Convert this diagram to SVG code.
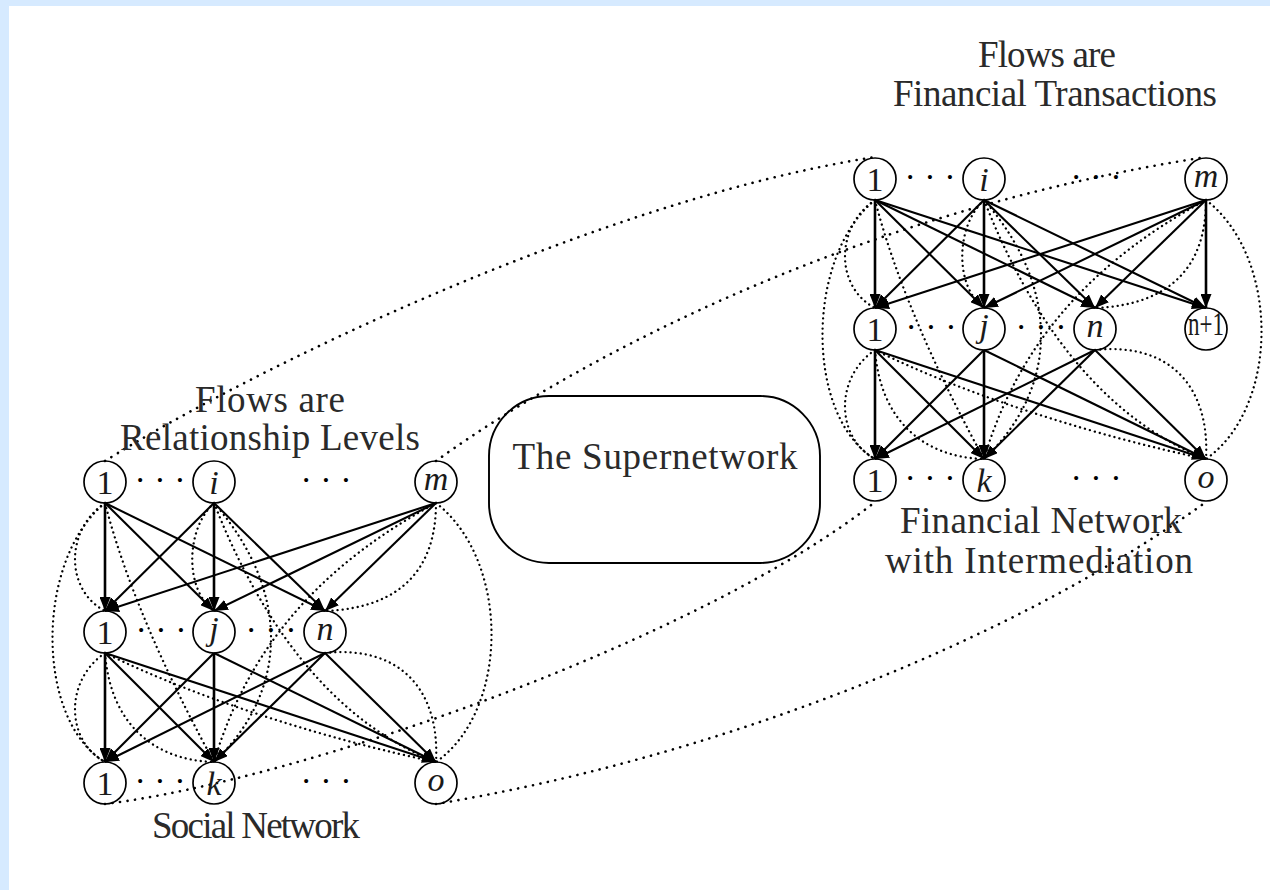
<svg xmlns="http://www.w3.org/2000/svg" width="1270" height="890" viewBox="0 0 1270 890">
<defs>
<marker id="ah" viewBox="0 0 14 11" refX="14" refY="5.5" markerWidth="14" markerHeight="11" markerUnits="userSpaceOnUse" orient="auto"><path d="M0,0 L14,5.5 L0,11 z" fill="#000"/></marker>
<style>
.nd circle{fill:none;stroke:#000;stroke-width:1.7}
.lb{font-family:"Liberation Serif",serif;font-size:34px;text-anchor:middle;fill:#1a1a1a}
.it{font-style:italic}
.tx{font-family:"Liberation Serif",serif;font-size:37px;text-anchor:middle;fill:#2a2a2a}
.el{font-family:"Liberation Serif",serif;font-size:34px;text-anchor:middle;fill:#000}
.ar{fill:none;stroke:#000;stroke-width:2.1;marker-end:url(#ah)}
.vt{stroke-width:2.6}
.dt{fill:none;stroke:#000;stroke-width:2.3;stroke-dasharray:0.1 5;stroke-linecap:round}
.cn{fill:none;stroke:#000;stroke-width:2.6;stroke-dasharray:0.1 7.5;stroke-linecap:round}
</style>
</defs>
<rect x="0" y="0" width="1270" height="890" fill="#d6eaff"/>
<rect x="9" y="6" width="1261" height="884" fill="#fff"/>

<!-- connectors between the two networks -->
<g id="connectors">
<path class="cn" d="M105,461 C250,370 600,200 875,157"/>
<path class="cn" d="M436,461 C520,400 800,220 1206,157"/>
<path class="cn" d="M105,804 C300,780 700,640 875,502"/>
<path class="cn" d="M436,804 C700,760 1000,650 1206,502"/>
</g>

<g id="supernetwork">
<rect x="489" y="396" width="331" height="167" rx="60" ry="60" fill="none" stroke="#000" stroke-width="1.9"/>
<text class="tx" x="655" y="469" font-size="38" textLength="285">The Supernetwork</text>
</g>

<!-- Social network (left) -->
<g id="social-network">
<g id="social-edges">
<path class="ar vt" d="M105,503 L105,611"/>
<path class="ar" d="M105,503 L214,611"/>
<path class="ar" d="M105,503 L325,611"/>
<path class="ar" d="M214,503 L105,611"/>
<path class="ar vt" d="M214,503 L214,611"/>
<path class="ar" d="M214,503 L325,611"/>
<path class="ar" d="M436,503 L105,611"/>
<path class="ar" d="M436,503 L214,611"/>
<path class="ar" d="M436,503 L325,611"/>
<path class="ar vt" d="M105,653 L105,762"/>
<path class="ar" d="M105,653 L214,762"/>
<path class="ar" d="M105,653 L436,762"/>
<path class="ar" d="M214,653 L105,762"/>
<path class="ar vt" d="M214,653 L214,762"/>
<path class="ar" d="M214,653 L436,762"/>
<path class="ar" d="M325,653 L105,762"/>
<path class="ar" d="M325,653 L214,762"/>
<path class="ar" d="M325,653 L436,762"/>
<path class="dt" d="M105,503 C65,530 65,590 105,611"/>
<path class="dt" d="M214,503 C185,530 185,590 214,611"/>
<path class="dt" d="M436,503 C436,570 400,608 325,611"/>
<path class="dt" d="M105,653 C65,680 65,740 105,762"/>
<path class="dt" d="M325,653 C400,645 440,690 436,762"/>
<path class="dt" d="M105,503 C35,560 35,720 105,762"/>
<path class="dt" d="M436,503 C510,560 510,710 436,762"/>
<path class="dt" d="M105,503 C130,600 180,700 214,762"/>
<path class="dt" d="M436,503 C330,560 250,640 214,762"/>
<path class="dt" d="M214,503 C290,590 290,690 214,762"/>
<path class="dt" d="M214,503 C260,620 330,720 436,762"/>
<path class="dt" d="M105,653 C200,700 330,740 436,762"/>
<path class="dt" d="M105,653 C110,720 150,760 214,762"/>
</g>
<g id="s-t1" class="nd"><circle cx="105" cy="482" r="21"/><text class="lb" x="105" y="494">1</text></g>
<g id="s-ti" class="nd"><circle cx="214" cy="482" r="21"/><text class="lb it" x="214" y="494">i</text></g>
<g id="s-tm" class="nd"><circle cx="436" cy="482" r="21"/><text class="lb it" x="436" y="490" textLength="32">m</text></g>
<g id="s-m1" class="nd"><circle cx="105" cy="632" r="21"/><text class="lb" x="105" y="644">1</text></g>
<g id="s-mj" class="nd"><circle cx="214" cy="632" r="21"/><text class="lb it" x="214" y="640">j</text></g>
<g id="s-mn" class="nd"><circle cx="325" cy="632" r="21"/><text class="lb it" x="325" y="640">n</text></g>
<g id="s-b1" class="nd"><circle cx="105" cy="783" r="21"/><text class="lb" x="105" y="795">1</text></g>
<g id="s-bk" class="nd"><circle cx="214" cy="783" r="21"/><text class="lb it" x="214" y="795">k</text></g>
<g id="s-bo" class="nd"><circle cx="436" cy="783" r="21"/><text class="lb it" x="436" y="791">o</text></g>
<g id="s-dots">
<text class="el" x="160" y="491">· · ·</text>
<text class="el" x="326" y="491">· · ·</text>
<text class="el" x="161" y="641">· · ·</text>
<text class="el" x="271" y="641">· · ·</text>
<text class="el" x="160" y="792">· · ·</text>
<text class="el" x="326" y="792">· · ·</text>
</g>
<text class="tx" x="270" y="412" textLength="150">Flows are</text>
<text class="tx" x="270" y="450" textLength="300">Relationship Levels</text>
<text class="tx" x="256" y="838" textLength="208">Social Network</text>
</g>

<!-- Financial network (right) -->
<g id="financial-network" transform="translate(770,-303)">
<g id="financial-edges">
<path class="ar vt" d="M105,503 L105,611"/>
<path class="ar" d="M105,503 L214,611"/>
<path class="ar" d="M105,503 L325,611"/>
<path class="ar" d="M105,503 L436,611"/>
<path class="ar" d="M214,503 L105,611"/>
<path class="ar vt" d="M214,503 L214,611"/>
<path class="ar" d="M214,503 L325,611"/>
<path class="ar" d="M214,503 L436,611"/>
<path class="ar" d="M436,503 L105,611"/>
<path class="ar" d="M436,503 L214,611"/>
<path class="ar" d="M436,503 L325,611"/>
<path class="ar vt" d="M436,503 L436,611"/>
<path class="ar vt" d="M105,653 L105,762"/>
<path class="ar" d="M105,653 L214,762"/>
<path class="ar" d="M105,653 L436,762"/>
<path class="ar" d="M214,653 L105,762"/>
<path class="ar vt" d="M214,653 L214,762"/>
<path class="ar" d="M214,653 L436,762"/>
<path class="ar" d="M325,653 L105,762"/>
<path class="ar" d="M325,653 L214,762"/>
<path class="ar" d="M325,653 L436,762"/>
<path class="dt" d="M105,503 C65,530 65,590 105,611"/>
<path class="dt" d="M214,503 C185,530 185,590 214,611"/>
<path class="dt" d="M436,503 C436,570 400,608 325,611"/>
<path class="dt" d="M105,653 C65,680 65,740 105,762"/>
<path class="dt" d="M325,653 C400,645 440,690 436,762"/>
<path class="dt" d="M105,503 C35,560 35,720 105,762"/>
<path class="dt" d="M436,503 C510,560 510,710 436,762"/>
<path class="dt" d="M105,503 C130,600 180,700 214,762"/>
<path class="dt" d="M436,503 C330,560 250,640 214,762"/>
<path class="dt" d="M214,503 C290,590 290,690 214,762"/>
<path class="dt" d="M214,503 C260,620 330,720 436,762"/>
<path class="dt" d="M105,653 C200,700 330,740 436,762"/>
<path class="dt" d="M105,653 C110,720 150,760 214,762"/>
</g>
<g id="f-t1" class="nd"><circle cx="105" cy="482" r="21"/><text class="lb" x="105" y="494">1</text></g>
<g id="f-ti" class="nd"><circle cx="214" cy="482" r="21"/><text class="lb it" x="214" y="494">i</text></g>
<g id="f-tm" class="nd"><circle cx="436" cy="482" r="21"/><text class="lb it" x="436" y="490" textLength="32">m</text></g>
<g id="f-m1" class="nd"><circle cx="105" cy="632" r="21"/><text class="lb" x="105" y="644">1</text></g>
<g id="f-mj" class="nd"><circle cx="214" cy="632" r="21"/><text class="lb it" x="214" y="640">j</text></g>
<g id="f-mn" class="nd"><circle cx="325" cy="632" r="21"/><text class="lb it" x="325" y="640">n</text></g>
<g id="f-mn1" class="nd"><circle cx="436" cy="632" r="21"/><text class="lb" x="436" y="638" font-size="19" textLength="36" lengthAdjust="spacingAndGlyphs">n+1</text></g>
<g id="f-b1" class="nd"><circle cx="105" cy="783" r="21"/><text class="lb" x="105" y="795">1</text></g>
<g id="f-bk" class="nd"><circle cx="214" cy="783" r="21"/><text class="lb it" x="214" y="795">k</text></g>
<g id="f-bo" class="nd"><circle cx="436" cy="783" r="21"/><text class="lb it" x="436" y="791">o</text></g>
<g id="f-dots">
<text class="el" x="160" y="491">· · ·</text>
<text class="el" x="326" y="491">· · ·</text>
<text class="el" x="161" y="641">· · ·</text>
<text class="el" x="271" y="641">· · ·</text>
<text class="el" x="160" y="792">· · ·</text>
<text class="el" x="326" y="792">· · ·</text>
</g>
</g>
<text class="tx" x="1047" y="67" textLength="138">Flows are</text>
<text class="tx" x="1055" y="106" textLength="324">Financial Transactions</text>
<text class="tx" x="1041" y="533" textLength="282">Financial Network</text>
<text class="tx" x="1039" y="573" textLength="308">with Intermediation</text>
</svg>
